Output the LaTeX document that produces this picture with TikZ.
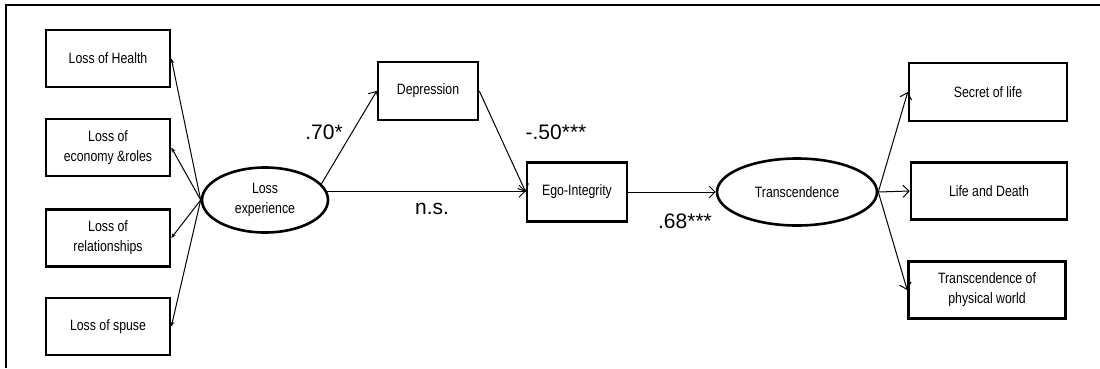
\documentclass[tikz,border=0pt]{standalone}
\usepackage{fontspec}
\setmainfont{Liberation Sans}
\newfontfamily\boxfont[FakeStretch=0.82]{Liberation Sans}
\usetikzlibrary{shapes.geometric,arrows.meta}
\tikzset{
  obsbox/.style={draw,line width=2.6pt,align=center,inner sep=0pt,
    font=\boxfont\fontsize{15}{20}\selectfont},
  latent/.style={draw,ellipse,line width=2.6pt,align=center,inner sep=0pt,
    font=\boxfont\fontsize{15}{20}\selectfont},
  link/.style={line width=1pt,-{Straight Barb[length=6pt,width=12pt]}},
  loading/.style={line width=1pt,-{Stealth[length=5pt,width=4pt]}},
  coef/.style={font=\fontsize{21}{24}\selectfont,inner sep=0pt}
}
\begin{document}
\begin{tikzpicture}[x=1pt,y=-1pt]
\useasboundingbox (0,0) rectangle (1100,368);
\draw[line width=1.2pt] (6,368) -- (6,5) -- (1100,5);
%左侧
\node[obsbox,minimum width=124pt,minimum height=57pt] (health) at (108,58.5) {Loss of Health};
\node[obsbox,minimum width=124pt,minimum height=57pt] (econ) at (108,147.5) {Loss of\\economy \&roles};
\node[obsbox,minimum width=124pt,minimum height=57pt] (rel) at (108,238) {Loss of\\relationships};
\node[obsbox,minimum width=124pt,minimum height=57pt] (spouse) at (108,326.5) {Loss of spuse};
\node[latent,minimum width=126pt,minimum height=65pt] (loss) at (265,200) {Loss\\experience};
%中间
\node[obsbox,minimum width=100pt,minimum height=58pt] (dep) at (428,91) {Depression};
\node[obsbox,minimum width=100pt,minimum height=59pt] (ego) at (577,192) {Ego-Integrity};
%右侧
\node[latent,minimum width=160pt,minimum height=67pt] (trans) at (797,192) {Transcendence};
\node[obsbox,minimum width=158pt,minimum height=58pt] (secret) at (988,92) {Secret of life};
\node[obsbox,minimum width=156pt,minimum height=57pt] (death) at (989,191) {Life and Death};
\node[obsbox,minimum width=157pt,minimum height=57pt] (phys) at (987,290) {Transcendence of\\physical world};
%系数
\node[coef] (c1) at (324,132) {.70*};
\node[coef] (c2) at (556,132) {-.50***};
\node[coef] (c3) at (432,209) {n.s.};
\node[coef] (c4) at (685,221) {.68***};

\draw[loading] (loss.west) -- (health.east);
\draw[loading] (loss.west) -- (econ.east);
\draw[loading] (loss.west) -- (rel.east);
\draw[loading] (loss.west) -- (spouse.east);
\draw[link] (loss.16) -- (dep.west);
\draw[link] (dep.east) -- (ego.west);
\draw[link] (loss.8) -- (loss.8 -| ego.west);
\draw[link] (ego.east) -- (trans.west);
\draw[link] (trans.east) -- (secret.west);
\draw[link] (trans.east) -- (death.west);
\draw[link] (trans.east) -- (phys.west);
\end{tikzpicture}
\end{document}
